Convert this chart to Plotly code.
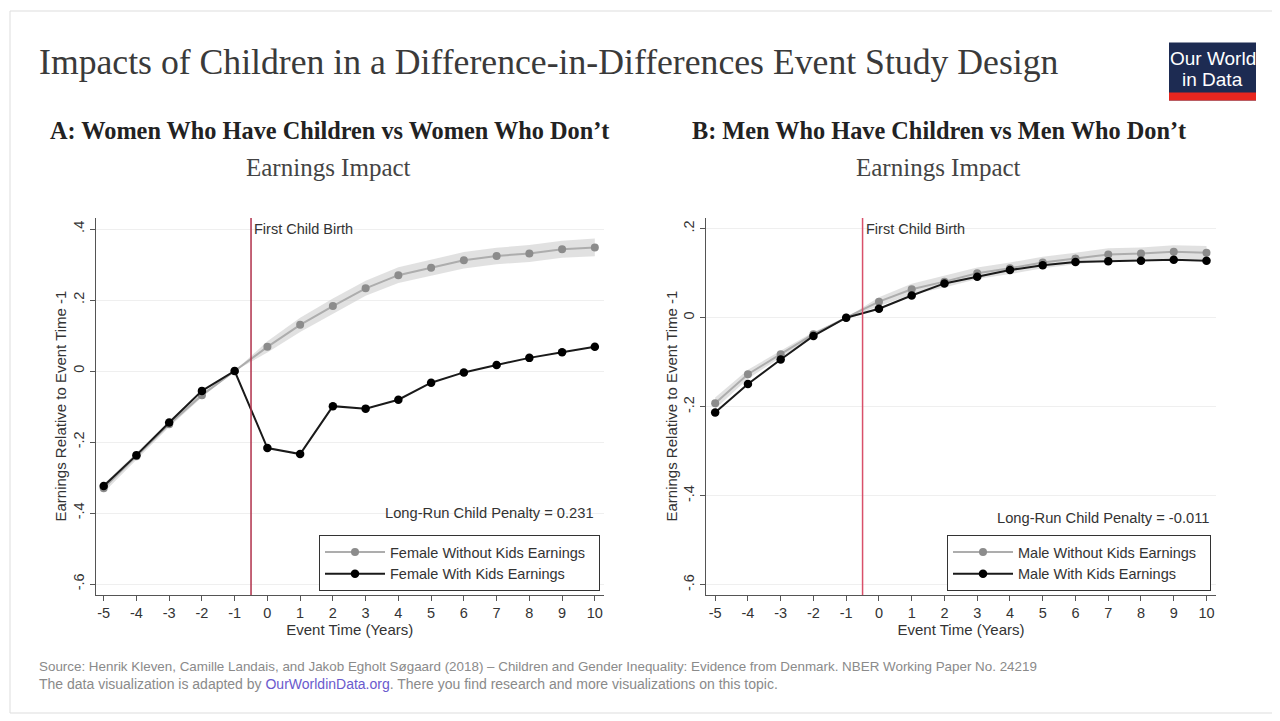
import plotly.graph_objects as go

# event time
years = [-5, -4, -3, -2, -1, 0, 1, 2, 3, 4, 5, 6, 7, 8, 9, 10]
year_labels = [str(v) for v in years]

# panel A: women
women_no_kids = [-0.330, -0.240, -0.150, -0.068, 0.0, 0.068, 0.130, 0.183, 0.233, 0.270,
                 0.291, 0.312, 0.324, 0.331, 0.343, 0.348]
women_no_kids_lo = [-0.342, -0.250, -0.158, -0.074, 0.0, 0.052, 0.110, 0.162, 0.212, 0.248,
                    0.268, 0.289, 0.301, 0.307, 0.319, 0.323]
women_no_kids_hi = [-0.318, -0.230, -0.142, -0.062, 0.0, 0.084, 0.150, 0.204, 0.254, 0.292,
                    0.314, 0.335, 0.347, 0.355, 0.367, 0.373]
women_kids = [-0.324, -0.237, -0.145, -0.056, 0.0, -0.217, -0.234, -0.099, -0.106, -0.081,
              -0.033, -0.004, 0.017, 0.037, 0.053, 0.068]

# panel B: men
men_no_kids = [-0.192, -0.127, -0.082, -0.037, 0.0, 0.036, 0.064, 0.081, 0.100, 0.111,
               0.124, 0.133, 0.142, 0.144, 0.148, 0.146]
men_no_kids_lo = [-0.205, -0.137, -0.090, -0.042, 0.0, 0.026, 0.052, 0.068, 0.087, 0.098,
                  0.111, 0.120, 0.128, 0.130, 0.133, 0.131]
men_no_kids_hi = [-0.179, -0.117, -0.074, -0.032, 0.0, 0.046, 0.076, 0.094, 0.113, 0.124,
                  0.137, 0.146, 0.156, 0.158, 0.163, 0.161]
men_kids = [-0.213, -0.149, -0.094, -0.041, 0.0, 0.020, 0.050, 0.077, 0.092, 0.107,
            0.118, 0.125, 0.127, 0.128, 0.130, 0.128]

women_yticks = [0.4, 0.2, 0, -0.2, -0.4, -0.6]
women_ylabels = [".4", ".2", "0", "-.2", "-.4", "-.6"]
men_yticks = [0.2, 0, -0.2, -0.4, -0.6]
men_ylabels = [".2", "0", "-.2", "-.4", "-.6"]

penalty_women = "Long-Run Child Penalty = 0.231"
penalty_men = "Long-Run Child Penalty = -0.011"

W, H = 1280, 721
OFF = 8  # page body margin
SANS = "Liberation Sans, Arial, sans-serif"
SERIF = "Liberation Serif, Times New Roman, serif"
TXT = "#333333"
GREY_LINE = "#adadad"
GREY_MARK = "#8c8c8c"
BAND = "rgba(200,200,200,0.55)"
PAD = "\u00a0\u00a0"  # a little room on the right of legend labels


def px_x(p):
    return (p - OFF) / W


def px_y(p):
    return 1 - (p - OFF) / H


fig = go.Figure()


def add_panel(xa, ya, legend, no_kids, lo, hi, kids, name_no, name_kids):
    fig.add_trace(go.Scatter(
        x=years + years[::-1], y=hi + lo[::-1], fill="toself", fillcolor=BAND,
        line=dict(width=0), mode="lines", showlegend=False, hoverinfo="skip",
        xaxis=xa, yaxis=ya))
    fig.add_trace(go.Scatter(
        x=years, y=no_kids, mode="lines+markers", name=name_no + PAD,
        line=dict(color=GREY_LINE, width=2), marker=dict(color=GREY_MARK, size=8),
        xaxis=xa, yaxis=ya, legend=legend))
    fig.add_trace(go.Scatter(
        x=years, y=kids, mode="lines+markers", name=name_kids + PAD,
        line=dict(color="#1a1a1a", width=2), marker=dict(color="#000000", size=8.5),
        xaxis=xa, yaxis=ya, legend=legend))


add_panel("x", "y", "legend", women_no_kids, women_no_kids_lo, women_no_kids_hi,
          women_kids, "Female Without Kids Earnings", "Female With Kids Earnings")
add_panel("x2", "y2", "legend2", men_no_kids, men_no_kids_lo, men_no_kids_hi,
          men_kids, "Male Without Kids Earnings", "Male With Kids Earnings")

ydom = [px_y(595), px_y(218)]
axis_common = dict(
    showline=True, linecolor="#555555", linewidth=1, ticks="outside", ticklen=5,
    tickcolor="#555555", tickfont=dict(family=SANS, size=14.5, color=TXT),
    zeroline=False, mirror=False,
)
xtitle = dict(text="Event Time (Years)", standoff=3, font=dict(family=SANS, size=15, color=TXT))
legend_common = dict(xanchor="right", yanchor="top", bordercolor="#333333", borderwidth=1,
                     bgcolor="white", font=dict(family=SANS, size=14.5, color=TXT),
                     itemwidth=60, tracegroupgap=0)

fig.update_layout(
    xaxis=dict(domain=[px_x(95.5), px_x(604)], range=[-5.25, 10.28], anchor="y",
               tickvals=years, ticktext=year_labels, showgrid=False, title=xtitle,
               **axis_common),
    yaxis=dict(domain=ydom, range=[-0.631, 0.431], anchor="x",
               tickvals=women_yticks, ticktext=women_ylabels, tickangle=-90,
               showgrid=True, gridcolor="#efefef", **axis_common),
    xaxis2=dict(domain=[px_x(706), px_x(1216)], range=[-5.28, 10.29], anchor="y2",
                tickvals=years, ticktext=year_labels, showgrid=False, title=xtitle,
                **axis_common),
    yaxis2=dict(domain=ydom, range=[-0.623, 0.224], anchor="x2",
                tickvals=men_yticks, ticktext=men_ylabels, tickangle=-90,
                showgrid=True, gridcolor="#efefef", **axis_common),
    legend=dict(x=px_x(600), y=px_y(535), **legend_common),
    legend2=dict(x=px_x(1211), y=px_y(535), **legend_common),
    width=W, height=H, autosize=False,
    margin=dict(l=0, r=0, t=0, b=0),
    paper_bgcolor="white", plot_bgcolor="white",
    showlegend=True,
)

shapes = [
    # card border
    dict(type="rect", xref="paper", yref="paper", x0=px_x(10), x1=px_x(1276),
         y0=px_y(713), y1=px_y(11), line=dict(color="#dddddd", width=1), layer="below"),
    # first child birth lines
    dict(type="line", xref="x", yref="y domain", x0=-0.5, x1=-0.5, y0=0, y1=1,
         line=dict(color="#b0304a", width=1.5)),
    dict(type="line", xref="x2", yref="y2 domain", x0=-0.5, x1=-0.5, y0=0, y1=1,
         line=dict(color="#d9506a", width=1.5)),
    # logo
    dict(type="rect", xref="paper", yref="paper", x0=px_x(1169), x1=px_x(1256),
         y0=px_y(100.5), y1=px_y(42.5), fillcolor="#1d2b52", line=dict(width=0)),
    dict(type="rect", xref="paper", yref="paper", x0=px_x(1169), x1=px_x(1256),
         y0=px_y(100.5), y1=px_y(92.5), fillcolor="#e8261f", line=dict(width=0)),
]
fig.update_layout(shapes=shapes)

annotations = [
    dict(text="Impacts of Children in a Difference-in-Differences Event Study Design",
         x=px_x(37), y=px_y(62), xanchor="left", yanchor="middle",
         font=dict(family=SERIF, size=35.7, color="#3a3a3a")),
    dict(text="<b>A: Women Who Have Children vs Women Who Don’t</b>",
         x=px_x(329), y=px_y(130), xanchor="center", yanchor="middle",
         font=dict(family=SERIF, size=24.3, color="#222222")),
    dict(text="Earnings Impact", x=px_x(328), y=px_y(167), xanchor="center", yanchor="middle",
         font=dict(family=SERIF, size=25, color="#444444")),
    dict(text="<b>B: Men Who Have Children vs Men Who Don’t</b>",
         x=px_x(939), y=px_y(130), xanchor="center", yanchor="middle",
         font=dict(family=SERIF, size=24.3, color="#222222")),
    dict(text="Earnings Impact", x=px_x(938), y=px_y(167), xanchor="center", yanchor="middle",
         font=dict(family=SERIF, size=25, color="#444444")),
    dict(text="Earnings Relative to Event Time -1", x=px_x(60), y=px_y(406.5),
         textangle=-90, xanchor="center", yanchor="middle",
         font=dict(family=SANS, size=15, color=TXT)),
    dict(text="Earnings Relative to Event Time -1", x=px_x(671), y=px_y(406.5),
         textangle=-90, xanchor="center", yanchor="middle",
         font=dict(family=SANS, size=15, color=TXT)),
    dict(text="First Child Birth", xref="x", yref="paper", x=-0.5, y=px_y(229),
         xanchor="left", yanchor="middle", xshift=1,
         font=dict(family=SANS, size=14.5, color=TXT)),
    dict(text="First Child Birth", xref="x2", yref="paper", x=-0.5, y=px_y(229),
         xanchor="left", yanchor="middle", xshift=1,
         font=dict(family=SANS, size=14.5, color=TXT)),
    dict(text=penalty_women, xref="x", yref="y", x=10.03, y=-0.40, xanchor="right",
         yanchor="middle", font=dict(family=SANS, size=14.7, color=TXT)),
    dict(text=penalty_men, xref="x2", yref="y2", x=10.15, y=-0.45, xanchor="right",
         yanchor="middle", font=dict(family=SANS, size=14.7, color=TXT)),
    dict(text="Source: Henrik Kleven, Camille Landais, and Jakob Egholt Søgaard (2018) – "
              "Children and Gender Inequality: Evidence from Denmark. NBER Working Paper No. 24219",
         x=px_x(37), y=px_y(666), xanchor="left", yanchor="middle",
         font=dict(family=SANS, size=13.4, color="#8a8a8a")),
    dict(text="The data visualization is adapted by "
              "<span style='color:#6a5acd'>OurWorldinData.org</span>. "
              "There you find research and more visualizations on this topic.",
         x=px_x(37), y=px_y(684), xanchor="left", yanchor="middle",
         font=dict(family=SANS, size=14, color="#8a8a8a")),
    dict(text="Our World", x=px_x(1212.5), y=px_y(59), xanchor="center", yanchor="middle",
         font=dict(family="Liberation Sans Narrow, Liberation Sans, sans-serif", size=19,
                   color="white")),
    dict(text="in Data", x=px_x(1212.5), y=px_y(80), xanchor="center", yanchor="middle",
         font=dict(family="Liberation Sans Narrow, Liberation Sans, sans-serif", size=19,
                   color="white")),
]
for a in annotations:
    a.setdefault("xref", "paper")
    a.setdefault("yref", "paper")
    a.setdefault("showarrow", False)
fig.update_layout(annotations=annotations)

fig.write_html("out.html")
